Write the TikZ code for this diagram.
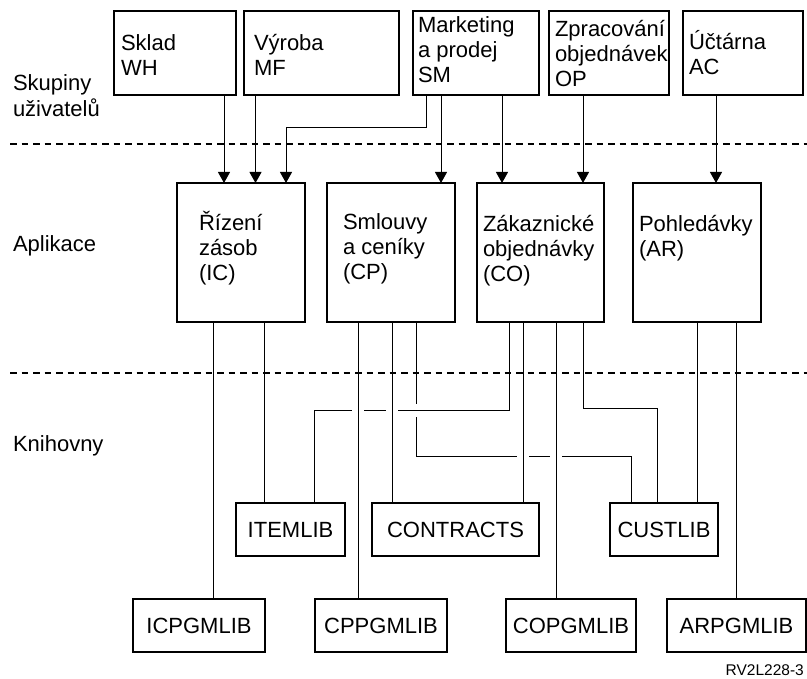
\documentclass[tikz,border=0pt]{standalone}
\usepackage{fontspec}
\setmainfont{Liberation Sans}
\usetikzlibrary{arrows.meta}
\newcommand\mylines[1]{\begin{tabular}[t]{@{}l@{}}#1\end{tabular}}
\begin{document}
\begin{tikzpicture}[x=1pt,y=-1pt,
  box/.style={draw, line width=1.2pt, inner sep=0pt, outer sep=0pt},
  lib/.style={box, font=\fontsize{22}{25}\selectfont},
  txt/.style={anchor=base west, inner sep=0pt, outer sep=0pt, font=\fontsize{22}{25}\selectfont},
  conn/.style={line width=1pt},
  arr/.style={conn, -{Triangle[width=12pt,length=11pt]}},
  sep/.style={line width=1.2pt, dash pattern=on 6.5pt off 5pt},
  gap/.style={fill=white}
]
\useasboundingbox[fill=white] (0,0) rectangle (807,679);

% separators
\coordinate (s1a) at (10,144);  \coordinate (s1b) at (807,144);
\coordinate (s2a) at (10,373);  \coordinate (s2b) at (807,373);
\draw[sep] (s1a) -- (s1b);
\draw[sep] (s2a) -- (s2b);

% left labels
\node[txt] (lgroups) at (13,91) {\mylines{Skupiny\\uživatelů}};
\node[txt] (lapps) at (13,252) {Aplikace};
\node[txt] (llibs) at (13,452) {Knihovny};

% user groups
\node[box, minimum width=122, minimum height=84] (wh) at (175,53) {};
\node[box, minimum width=155, minimum height=84] (mf) at (321.5,53) {};
\node[box, minimum width=126, minimum height=84] (sm) at (476,53) {};
\node[box, minimum width=120, minimum height=84] (op) at (609,53) {};
\node[box, minimum width=120, minimum height=84] (ac) at (743,53) {};
\node[txt] (twh) at (121,51) {\mylines{Sklad\\WH}};
\node[txt] (tmf) at (254,51) {\mylines{Výroba\\MF}};
\node[txt] (tsm) at (418,33) {\mylines{Marketing\\a prodej\\SM}};
\node[txt] (top) at (555,37) {\mylines{Zpracování\\objednávek\\OP}};
\node[txt] (tac) at (689,50) {\mylines{Účtárna\\AC}};

% applications
\node[box, minimum width=128, minimum height=139] (ic) at (241,252.5) {};
\node[box, minimum width=128, minimum height=139] (cp) at (391,252.5) {};
\node[box, minimum width=127, minimum height=139] (co) at (540.5,252.5) {};
\node[box, minimum width=128, minimum height=139] (ar) at (697,252.5) {};
\node[txt] (tic) at (199,231) {\mylines{Řízení\\zásob\\(IC)}};
\node[txt] (tcp) at (343,230) {\mylines{Smlouvy\\a ceníky\\(CP)}};
\node[txt] (tco) at (483,232) {\mylines{Zákaznické\\objednávky\\(CO)}};
\node[txt] (tar) at (639,232) {\mylines{Pohledávky\\(AR)}};

% libraries
\node[lib, minimum width=109, minimum height=53] (itemlib) at (290.5,529.5) {ITEMLIB};
\node[lib, minimum width=167, minimum height=53] (contracts) at (455.5,529.5) {CONTRACTS};
\node[lib, minimum width=108, minimum height=53] (custlib) at (664,529.5) {CUSTLIB};
\node[lib, minimum width=132, minimum height=53] (icpgm) at (199,625.5) {ICPGMLIB};
\node[lib, minimum width=132, minimum height=53] (cppgm) at (381,625.5) {CPPGMLIB};
\node[lib, minimum width=130, minimum height=53] (copgm) at (571,625.5) {COPGMLIB};
\node[lib, minimum width=139, minimum height=53] (arpgm) at (736.5,625.5) {ARPGMLIB};

\node[anchor=base east, inner sep=0pt, font=\fontsize{15.5}{18}\selectfont] (fig) at (804,675) {RV2L228-3};

% groups -> applications
\draw[arr] (wh.south -| 224,0) -- (ic.north -| 224,0);
\draw[arr] (mf.south -| 255.5,0) -- (ic.north -| 255.5,0);
\draw[arr] (sm.south -| 426,0) |- (286,128) -- (ic.north -| 286,0);
\draw[arr] (sm.south -| 441,0) -- (cp.north -| 441,0);
\draw[arr] (sm.south -| 502,0) -- (co.north -| 502,0);
\draw[arr] (op.south -| 583,0) -- (co.north -| 583,0);
\draw[arr] (ac.south -| 716,0) -- (ar.north -| 716,0);

% CP -> CUSTLIB (crossed)
\draw[conn] (cp.south -| 416,0) |- (631,456) -- (custlib.north -| 631,0);
\fill[gap] (412,404) rectangle (420,417);
% CO -> ITEMLIB
\draw[conn] (co.south -| 509,0) |- (314,411) -- (itemlib.north -| 314,0);
\fill[gap] (352,407) rectangle (364,415);
\fill[gap] (386,407) rectangle (398,415);
\fill[gap] (517,452) rectangle (529,460);
\fill[gap] (550,452) rectangle (562,460);

% straight connectors
\draw[conn] (ic.south -| 213,0) -- (icpgm.north -| 213,0);
\draw[conn] (ic.south -| 264,0) -- (itemlib.north -| 264,0);
\draw[conn] (cp.south -| 358,0) -- (cppgm.north -| 358,0);
\draw[conn] (cp.south -| 392,0) -- (contracts.north -| 392,0);
\draw[conn] (co.south -| 523,0) -- (contracts.north -| 523,0);
\draw[conn] (co.south -| 556,0) -- (copgm.north -| 556,0);
\draw[conn] (co.south -| 583,0) |- (657,409) -- (custlib.north -| 657,0);
\draw[conn] (ar.south -| 697,0) -- (custlib.north -| 697,0);
\draw[conn] (ar.south -| 736,0) -- (arpgm.north -| 736,0);
\end{tikzpicture}
\end{document}
